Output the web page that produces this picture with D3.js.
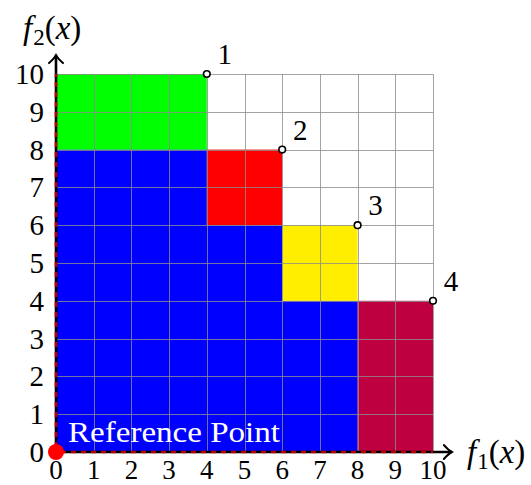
<!DOCTYPE html>
<html>
<head>
<meta charset="utf-8">
<script src="https://cdn.jsdelivr.net/npm/d3@7"></script>
<style>
  html, body { margin: 0; padding: 0; background: #fff; }
  svg { display: block; }
  text { font-family: "Liberation Serif", "DejaVu Serif", serif; fill: #000; }
</style>
</head>
<body>
<svg id="chart" width="531" height="485"></svg>
<script>
// Objective values of the non-dominated points (f1, f2)
const pointF1 = [4, 6, 8, 10];
const pointF2 = [10, 8, 6, 4];
const pointLabels = ["1", "2", "3", "4"];

// Reference point
const refPoint = [0, 0];
const refLabel = "Reference Point";

// Tick values for both axes
const ticks = [0, 1, 2, 3, 4, 5, 6, 7, 8, 9, 10];

// Shared dominated region (stair polygon) in objective space
const sharedF1 = [0, 4, 4, 6, 6, 8, 8, 0];
const sharedF2 = [8, 8, 6, 6, 4, 4, 0, 0];

// Exclusive contribution of each point: [f1 from, f1 to, f2 from, f2 to]
const contribF1 = [[0, 4], [4, 6], [6, 8], [8, 10]];
const contribF2 = [[8, 10], [6, 8], [4, 6], [0, 4]];
const contribColors = ["#00ff00", "#ff0000", "#ffee00", "#bf0040"];
const sharedColor = "#0000ff";

const svg = d3.select("#chart");
const x = d3.scaleLinear().domain([0, 10]).range([56, 433]);
const y = d3.scaleLinear().domain([0, 10]).range([452, 74]);

// shared region
svg.append("path")
  .attr("d", d3.line().x(d => x(d[0])).y(d => y(d[1]))(sharedF1.map((v, i) => [v, sharedF2[i]])) + "Z")
  .attr("fill", sharedColor);

// exclusive contributions
svg.selectAll("rect.contrib")
  .data(contribF1.map((r, i) => ({ f1: r, f2: contribF2[i], c: contribColors[i] })))
  .join("rect")
  .attr("class", "contrib")
  .attr("x", d => x(d.f1[0]))
  .attr("y", d => y(d.f2[1]))
  .attr("width", d => x(d.f1[1]) - x(d.f1[0]))
  .attr("height", d => y(d.f2[0]) - y(d.f2[1]))
  .attr("fill", d => d.c);

// grid over the fills
const grid = svg.append("g").attr("stroke", "#8c8c8c").attr("stroke-opacity", 0.8).attr("stroke-width", 1);
grid.selectAll("line.v").data(ticks).join("line").attr("class", "v")
  .attr("x1", d => Math.round(x(d)) + 0.5).attr("x2", d => Math.round(x(d)) + 0.5)
  .attr("y1", y(0)).attr("y2", y(10));
grid.selectAll("line.h").data(ticks).join("line").attr("class", "h")
  .attr("y1", d => Math.round(y(d)) + 0.5).attr("y2", d => Math.round(y(d)) + 0.5)
  .attr("x1", x(0)).attr("x2", x(10));

// axes: black arrows with red dashes on top
const xEnd = x(10.5), yEnd = y(10.5);
const axes = svg.append("g");
axes.append("line").attr("x1", x(0)).attr("y1", y(0)).attr("x2", xEnd).attr("y2", y(0))
  .attr("stroke", "#000").attr("stroke-width", 2.6);
axes.append("line").attr("x1", x(0)).attr("y1", y(0)).attr("x2", x(0)).attr("y2", yEnd)
  .attr("stroke", "#000").attr("stroke-width", 2.6);
axes.append("line").attr("x1", x(0)).attr("y1", y(0)).attr("x2", x(10)).attr("y2", y(0))
  .attr("stroke", "#b80000").attr("stroke-width", 2.6).attr("stroke-dasharray", "5 5").attr("stroke-dashoffset", -5);
axes.append("line").attr("x1", x(0)).attr("y1", y(0)).attr("x2", x(0)).attr("y2", y(10))
  .attr("stroke", "#b80000").attr("stroke-width", 2.6).attr("stroke-dasharray", "5 5").attr("stroke-dashoffset", -5);
// arrow heads
axes.append("path")
  .attr("d", `M${xEnd - 8},${y(0) - 7} Q${xEnd - 3},${y(0) - 1.5} ${xEnd},${y(0)} Q${xEnd - 3},${y(0) + 1.5} ${xEnd - 8},${y(0) + 7}`)
  .attr("fill", "none").attr("stroke", "#000").attr("stroke-width", 2).attr("stroke-linecap", "round");
axes.append("path")
  .attr("d", `M${x(0) - 7},${yEnd + 8} Q${x(0) - 1.5},${yEnd + 3} ${x(0)},${yEnd} Q${x(0) + 1.5},${yEnd + 3} ${x(0) + 7},${yEnd + 8}`)
  .attr("fill", "none").attr("stroke", "#000").attr("stroke-width", 2).attr("stroke-linecap", "round");

// tick labels
svg.selectAll("text.xt").data(ticks).join("text").attr("class", "xt")
  .attr("x", d => x(d)).attr("y", 479)
  .attr("text-anchor", "middle").attr("font-size", 27)
  .text(d => d);
svg.selectAll("text.yt").data(ticks).join("text").attr("class", "yt")
  .attr("x", 44).attr("y", d => y(d) + 10)
  .attr("text-anchor", "end").attr("font-size", 29)
  .text(d => d);

// axis titles
function axisTitle(tx, ty, sub) {
  const t = svg.append("text").attr("x", tx).attr("y", ty).attr("font-size", 33);
  t.append("tspan").attr("font-style", "italic").text("f");
  t.append("tspan").attr("font-size", 23).attr("dx", 1).attr("dy", 6).text(sub);
  t.append("tspan").attr("dy", -6).text("(");
  t.append("tspan").attr("font-style", "italic").text("x");
  t.append("tspan").text(")");
}
axisTitle(23, 39, "2");
axisTitle(467, 463, "1");

// reference point
svg.append("circle").attr("cx", x(refPoint[0])).attr("cy", y(refPoint[1])).attr("r", 8).attr("fill", "#ff0000");
svg.append("text").attr("x", 68).attr("y", 442).attr("font-size", 29)
  .attr("textLength", 212).attr("lengthAdjust", "spacingAndGlyphs")
  .style("fill", "#fff").text(refLabel);

// points and labels
const pts = pointF1.map((v, i) => ({ f1: v, f2: pointF2[i], label: pointLabels[i] }));
svg.selectAll("circle.pt").data(pts).join("circle").attr("class", "pt")
  .attr("cx", d => x(d.f1)).attr("cy", d => y(d.f2)).attr("r", 3.3)
  .attr("fill", "#fff").attr("stroke", "#000").attr("stroke-width", 1.6);
svg.selectAll("text.pl").data(pts).join("text").attr("class", "pl")
  .attr("x", d => x(d.f1) + 18).attr("y", d => y(d.f2) - 10)
  .attr("text-anchor", "middle").attr("font-size", 29)
  .text(d => d.label);
</script>
</body>
</html>
